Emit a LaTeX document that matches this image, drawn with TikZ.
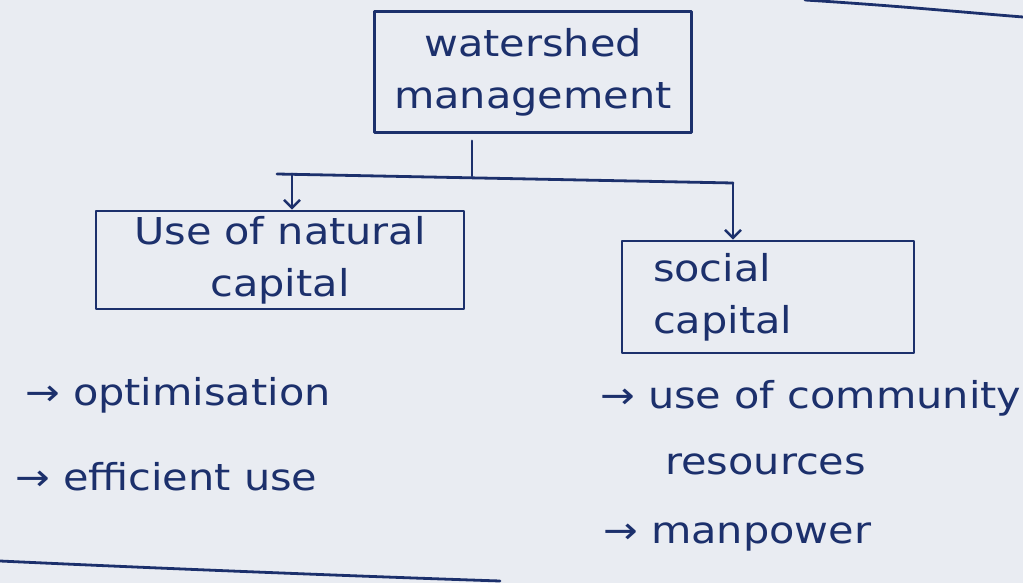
\documentclass[tikz,border=0pt]{standalone}
\usepackage{fontspec}
\setmainfont{DejaVu Sans}[FakeStretch=1.12]
\usetikzlibrary{arrows.meta}

\definecolor{paper}{RGB}{233,236,242}
\definecolor{ink}{RGB}{28,48,108}

\tikzset{
  ink line/.style={draw=ink, line width=2.8pt, line cap=round, line join=round},
  hand/.style={text=ink, font=\fontsize{37}{52}\selectfont},
  box/.style={hand, ink line, rectangle, align=center, inner sep=4pt},
  item/.style={hand, anchor=base west, inner sep=0pt},
  down/.style={ink line, -{Straight Barb[length=8pt,width=16pt,line width=2.4pt]}}
}

\begin{document}
\begin{tikzpicture}[x=1pt, y=-1pt]
  % paper
  \fill[paper] (0,0) rectangle (1023,583);
  \useasboundingbox (0,0) rectangle (1023,583);

  % ruled lines of the page
  \draw[ink line] (805,0) .. controls (900,6) and (960,12) .. (1023,17);
  \draw[ink line] (0,561) .. controls (150,568) and (350,576) .. (500,581);

  % boxes
  \node[box, minimum width=317pt, minimum height=121pt] (ws) at (533,72)
    {watershed\\management};
  \node[box, minimum width=368pt, minimum height=98pt] (nat) at (280,260)
    {Use of natural\\capital};
  \node[box, minimum width=292pt, minimum height=112pt, align=left,
        text width=230pt] (soc) at (768,297)
    {social\\capital};

  % branching connector
  \coordinate (stem) at (472,176);
  \coordinate (jl) at (277,174);
  \coordinate (jr) at (733,183);
  \coordinate (al) at (292,174);
  \draw[ink line] ([yshift=-7pt]ws.south -| stem) -- (stem);
  \draw[ink line] (jl) -- (jr);
  \draw[down] (al) -- (al |- nat.north);
  \draw[down] (jr) -- (jr |- soc.north);

  % points under each heading
  \node[item] (n1) at (25,405) {→ optimisation};
  \node[item] (n2) at (15,490) {→ efficient use};
  \node[item] (s1) at (600,408) {→ use of community};
  \node[item] (s2) at (665,474) {resources};
  \node[item] (s3) at (603,543) {→ manpower};
\end{tikzpicture}
\end{document}
